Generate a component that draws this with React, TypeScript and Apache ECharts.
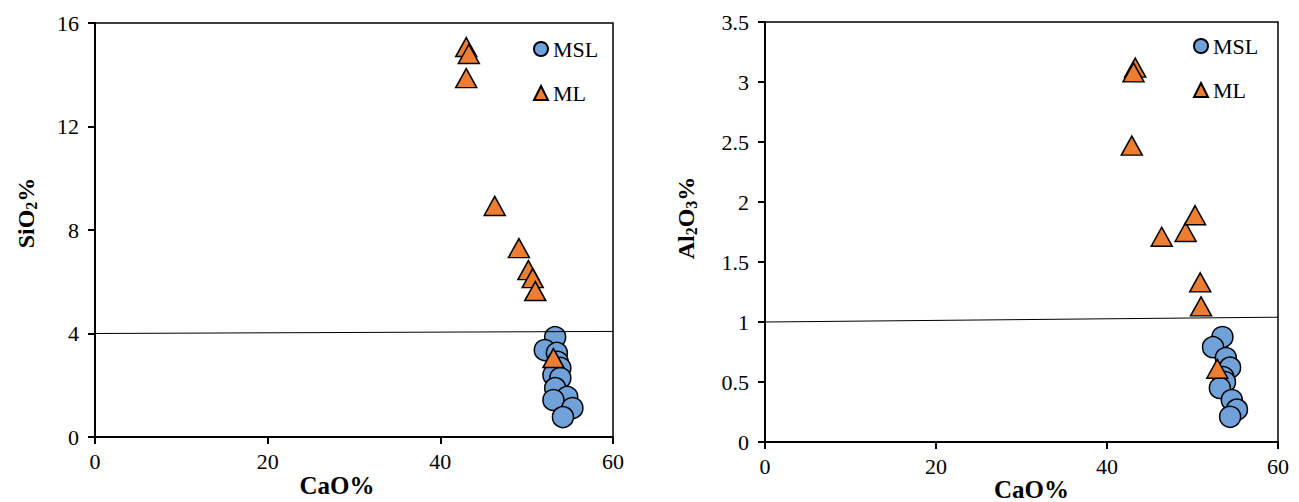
import React, { useEffect, useRef } from 'react';
import * as echarts from 'echarts';

const FONT = 'Liberation Serif';

// Left chart: CaO% vs SiO2%
const mslCaO1 = [53.3, 52.1, 53.5, 53.6, 53.9, 53.1, 53.9, 53.3, 54.7, 53.1, 55.3, 54.2];
const mslSiO2 = [3.86, 3.36, 3.25, 2.9, 2.67, 2.4, 2.28, 1.89, 1.55, 1.43, 1.12, 0.77];
const mlCaO1 = [43.0, 43.3, 43.0, 46.3, 49.1, 50.2, 50.7, 51.0, 53.1];
const mlSiO2 = [15.07, 14.8, 13.87, 8.93, 7.3, 6.45, 6.14, 5.64, 3.05];
const refLine1 = [[0, 4.0], [60, 4.08]];

// Right chart: CaO% vs Al2O3%
const mslCaO2 = [53.5, 52.4, 53.9, 54.4, 53.6, 53.8, 53.2, 54.6, 55.2, 54.4];
const mslAl2O3 = [0.875, 0.79, 0.7, 0.62, 0.54, 0.5, 0.45, 0.35, 0.27, 0.21];
const mlCaO2 = [43.3, 43.1, 42.9, 46.4, 49.2, 50.3, 50.9, 51.0, 52.9];
const mlAl2O3 = [3.12, 3.08, 2.47, 1.71, 1.75, 1.89, 1.33, 1.13, 0.61];
const refLine2 = [[0, 1.0], [60, 1.04]];

const legendNames = ['MSL', 'ML'];

const zip = (xs: number[], ys: number[]) => xs.map((x, i) => [x, ys[i]]);

const BLUE = '#70A1D8';
const ORANGE = '#ED7D31';

export default function App() {
  const ref = useRef<HTMLDivElement>(null);
  useEffect(() => {
    if (!ref.current) return;
    const chart = echarts.init(ref.current, null, { renderer: 'svg' });
    const tickLabel = { fontFamily: FONT, fontSize: 22, color: '#000' };
    const axisLine = { lineStyle: { color: '#000', width: 2 } };
    const axisTick = { inside: false, length: 7, lineStyle: { color: '#000', width: 2 } };
    const titleRich = {
      a: { fontFamily: FONT, fontSize: 24, fontWeight: 'bold', color: '#000' },
      s: { fontFamily: FONT, fontSize: 16, fontWeight: 'bold', color: '#000', verticalAlign: 'bottom', padding: [10, 0, 0, 0] },
    };
    const xAxisBase = (gridIndex: number, pad: number[], gap: number) => ({
      type: 'value',
      gridIndex,
      min: 0,
      max: 60,
      interval: 20,
      name: 'CaO%',
      nameLocation: 'middle',
      nameGap: gap,
      nameMoveOverlap: false,
      nameTextStyle: { fontFamily: FONT, fontSize: 25, fontWeight: 'bold', color: '#000', padding: pad },
      axisLine,
      axisTick,
      axisLabel: { ...tickLabel, margin: 13 },
      splitLine: { show: false },
    });
    const scatter = (name: string, xAxisIndex: number, data: number[][], extra: any = {}) => ({
      type: 'scatter',
      name,
      xAxisIndex,
      yAxisIndex: xAxisIndex,
      data,
      symbol: name === 'MSL' ? 'circle' : 'triangle',
      symbolSize: name === 'MSL' ? 21 : [21, 19],
      itemStyle: { color: name === 'MSL' ? BLUE : ORANGE, borderColor: '#000', borderWidth: 1.5, opacity: 1 },
      emphasis: { disabled: true },
      ...extra,
    });
    const markLine = (coords: number[][]) => ({
      silent: true,
      symbol: 'none',
      label: { show: false },
      lineStyle: { color: '#000', width: 1, type: 'solid' },
      data: [[{ coord: coords[0] }, { coord: coords[1] }]],
    });
    const legend = (left: number, top: number) => ({
      data: legendNames,
      orient: 'vertical',
      left,
      top,
      itemWidth: 14,
      itemHeight: 14,
      itemGap: 22,
      textStyle: { fontFamily: FONT, fontSize: 22, color: '#000' },
      selectedMode: false,
    });
    const gridBase = { show: true, borderColor: '#000', borderWidth: 1.5, backgroundColor: 'transparent', containLabel: false, outerBoundsMode: 'none' };
    chart.setOption({
      animation: false,
      backgroundColor: '#fff',
      textStyle: { fontFamily: FONT },
      legend: [legend(528, 33), legend(1188, 30)],
      grid: [
        { ...gridBase, left: 95, top: 23, width: 518, height: 414 },
        { ...gridBase, left: 765, top: 22, width: 513, height: 420 },
      ],
      xAxis: [xAxisBase(0, [0, 34, 0, 0], 36), xAxisBase(1, [0, 0, 0, 20], 35)],
      yAxis: [
        {
          type: 'value',
          gridIndex: 0,
          min: 0,
          max: 16,
          interval: 4,
          name: '{a|SiO}{s|2}{a|%}',
          nameLocation: 'middle',
          nameRotate: 90,
          nameGap: 56,
          nameMoveOverlap: false,
          nameTextStyle: { rich: titleRich, padding: [0, 0, 0, 34] },
          axisLine,
          axisTick,
          axisLabel: { ...tickLabel, margin: 16 },
          splitLine: { show: false },
        },
        {
          type: 'value',
          gridIndex: 1,
          min: 0,
          max: 3.5,
          interval: 0.5,
          name: '{a|Al}{s|2}{a|O}{s|3}{a|%}',
          nameLocation: 'middle',
          nameRotate: 90,
          nameGap: 66,
          nameMoveOverlap: false,
          nameTextStyle: { rich: titleRich, padding: [0, 0, 0, 28] },
          axisLine,
          axisTick,
          axisLabel: { ...tickLabel, margin: 16 },
          splitLine: { show: false },
        },
      ],
      series: [
        scatter('MSL', 0, zip(mslCaO1, mslSiO2), { markLine: markLine(refLine1) }),
        scatter('ML', 0, zip(mlCaO1, mlSiO2)),
        scatter('MSL', 1, zip(mslCaO2, mslAl2O3), { markLine: markLine(refLine2) }),
        scatter('ML', 1, zip(mlCaO2, mlAl2O3)),
      ],
    });
    return () => chart.dispose();
  }, []);
  return (
    <div
      ref={ref}
      style={{ position: 'fixed', left: 0, top: 0, width: 1299, height: 502, background: '#fff' }}
    />
  );
}
